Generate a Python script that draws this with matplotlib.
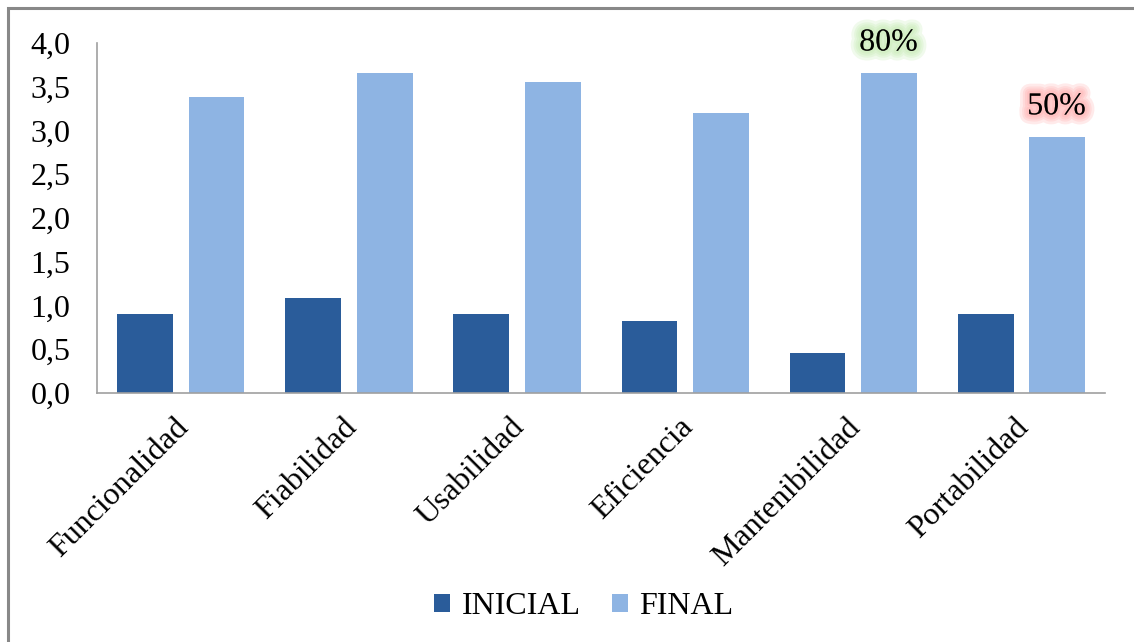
import matplotlib.pyplot as plt
import matplotlib.patheffects as pe
import matplotlib.transforms as mtrans
import numpy as np
from matplotlib.patches import Rectangle

categorias = ['Funcionalidad', 'Fiabilidad', 'Usabilidad', 'Eficiencia',
              'Mantenibilidad', 'Portabilidad']
inicial = [0.90, 1.09, 0.90, 0.82, 0.46, 0.90]
final = [3.38, 3.66, 3.55, 3.20, 3.66, 2.93]
yticks = [0.0, 0.5, 1.0, 1.5, 2.0, 2.5, 3.0, 3.5, 4.0]
notas = {4: ('80%', '#b8e6a0'), 5: ('50%', '#ff9a9a')}

plt.rcParams['font.family'] = ['Liberation Serif', 'DejaVu Serif']
fs = 23

fig = plt.figure(figsize=(11.34, 6.42), dpi=100)
ax = fig.add_axes([0.0855, 0.388, 0.889, 0.545])

x = np.arange(len(categorias))
w = 0.333
gap = 0.09
ax.bar(x - (w + gap) / 2, inicial, w, color='#2a5c9a', label='INICIAL')
ax.bar(x + (w + gap) / 2, final, w, color='#8eb4e3', label='FINAL')

ax.set_xlim(-0.5, len(categorias) - 0.5)
ax.set_ylim(0, 4)
ax.set_yticks(yticks)
ax.set_yticklabels(['{:.1f}'.format(v).replace('.', ',') for v in yticks], fontsize=fs)
ax.set_xticks(x)
ax.set_xticklabels([])

# category labels, rotated, anchored at their upper right end
off = mtrans.ScaledTranslation(-7 / 100, -20 / 100, fig.dpi_scale_trans)
for xi, nombre in zip(x, categorias):
    ax.text(xi, 0, nombre, transform=ax.get_xaxis_transform() + off,
            rotation=45, ha='right', va='top', rotation_mode='anchor', fontsize=fs)

ax.tick_params(axis='both', length=0)
ax.tick_params(axis='y', pad=19)
for s in ['top', 'right']:
    ax.spines[s].set_visible(False)
for s in ['left', 'bottom']:
    ax.spines[s].set_color('#a0a0a0')
    ax.spines[s].set_linewidth(1.2)

for i, (txt, col) in notas.items():
    glow = [pe.Stroke(linewidth=lw, foreground=col, alpha=0.2) for lw in (14, 10, 7, 4)]
    glow.append(pe.Normal())
    ax.annotate(txt, (x[i] + (w + gap) / 2, final[i]), xytext=(0, 11),
                textcoords='offset points', ha='center', va='bottom',
                fontsize=fs, color='black', path_effects=glow)

fig.legend(loc='center', bbox_to_anchor=(0.515, 0.055), ncol=2, frameon=False,
           fontsize=fs, handlelength=0.5, handleheight=0.5, handletextpad=0.35,
           columnspacing=1.0)

fig.patches.append(Rectangle((8 / 1134, -0.1), 1.2, 1.1 - 8 / 642,
                             transform=fig.transFigure, fill=False,
                             edgecolor='#888888', linewidth=2.2))

fig.savefig('out.png', dpi=100)
